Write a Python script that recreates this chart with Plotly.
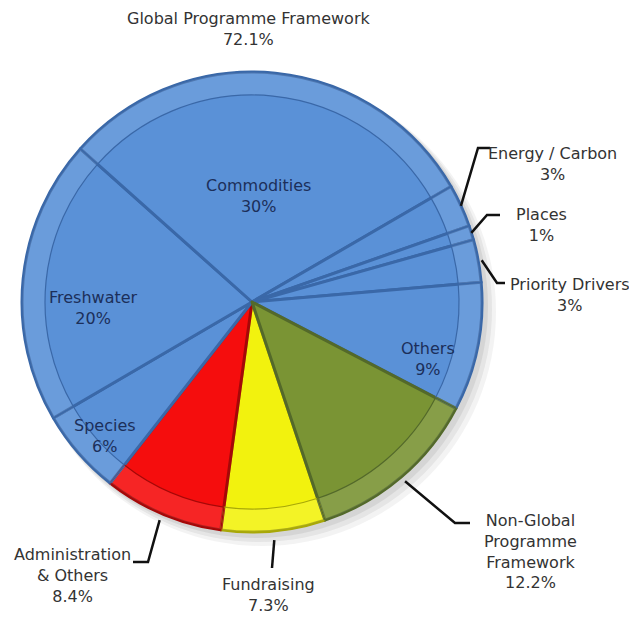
import math
import plotly.graph_objects as go

# ---- data (clockwise order, starting with Fundraising) ----
categories = ["Fundraising", "Administration & Others", "Species", "Freshwater",
              "Commodities", "Energy / Carbon", "Places", "Priority Drivers",
              "Others", "Non-Global Programme Framework"]
values = [7.3, 8.4, 6, 20, 30, 3, 1, 3, 9, 12.2]
pct_labels = ["7.3%", "8.4%", "6%", "20%", "30%", "3%", "1%", "3%", "9%", "12.2%"]
label_text = ["Fundraising", "Administration<br>& Others", "Species", "Freshwater",
              "Commodities", "Energy / Carbon", "Places", "Priority Drivers",
              "Others", "Non-Global<br>Programme<br>Framework"]
group_title = "Global Programme Framework"
group_pct = "72.1%"

# ---- styling ----
slice_colors = ["#F2F20E", "#F50D0D", "#5A91D7", "#5A91D7", "#5A91D7",
                "#5A91D7", "#5A91D7", "#5A91D7", "#5A91D7", "#7A9434"]
edge_colors = ["#A8A808", "#A50808", "#3A68A8", "#3A68A8", "#3A68A8",
               "#3A68A8", "#3A68A8", "#3A68A8", "#3A68A8", "#53692A"]

W, H = 637, 619
OFF = 8                     # browser body margin
FW, FH = W - OFF, H - OFF   # figure size
CX, CY, R = 252, 302, 230   # pie centre / radius in screen px
ROT = 161.5


def to_paper(x, y):
    return (x - OFF) / FW, 1 - (y - OFF) / FH


dx0, dy1 = to_paper(CX - R, CY - R)
dx1, dy0 = to_paper(CX + R, CY + R)

fig = go.Figure()
# soft shadow
for k, a in [(14, 0.07), (10, 0.09), (6, 0.11)]:
    s0 = to_paper(CX - R + k * 0.4, CY - R + k * 0.4)
    s1 = to_paper(CX + R + k, CY + R + k)
    fig.add_shape(type="circle", xref="paper", yref="paper",
                  x0=s0[0], x1=s1[0], y0=s1[1], y1=s0[1],
                  fillcolor=f"rgba(90,90,90,{a})", line=dict(width=0), layer="below")

fig.add_trace(go.Pie(
    labels=categories, values=values, sort=False, direction="clockwise",
    rotation=ROT, domain=dict(x=[dx0, dx1], y=[dy0, dy1]),
    marker=dict(colors=slice_colors, line=dict(color=edge_colors, width=3)),
    textinfo="none", hoverinfo="label+percent", showlegend=False))
# bevelled rim
fig.add_trace(go.Pie(
    labels=categories, values=values, sort=False, direction="clockwise",
    rotation=ROT, hole=0.9, domain=dict(x=[dx0, dx1], y=[dy0, dy1]),
    marker=dict(colors=["rgba(255,255,255,0.10)"] * len(values),
                line=dict(color=edge_colors, width=1.2)),
    textinfo="none", hoverinfo="skip", showlegend=False))

total = sum(values)
mids = {}
acc = ROT
for c, v in zip(categories, values):
    span = 360 * v / total
    mids[c] = acc + span / 2
    acc += span


def edge_pt(a_deg, rf):
    a = math.radians(a_deg)
    return CX + R * rf * math.sin(a), CY - R * rf * math.cos(a)


FONT = "DejaVu Sans"
FS = 16


def label(x, y, text, color):
    xp, yp = to_paper(x, y)
    fig.add_annotation(x=xp, y=yp, xref="paper", yref="paper", showarrow=False,
                       xanchor="center", yanchor="middle", align="center",
                       text=text, font=dict(family=FONT, size=FS, color=color))


# inside labels: screen position of text centre
inside_pos = {
    "Commodities": (258, 196),
    "Freshwater": (93, 308),
    "Species": (105, 436),
    "Others": (428, 359),
}
for c, (x, y) in inside_pos.items():
    i = categories.index(c)
    label(x, y, f"{label_text[i]}<br>{pct_labels[i]}", "#1C2F5A")

# outside labels: leader start radius, elbow, end, text centre (screen px)
outside_pos = {
    "Energy / Carbon": (1.0, (478, 148), (490, 148), (552, 164)),
    "Places": (1.0, (487, 215), (500, 215), (541, 225)),
    "Priority Drivers": (1.015, (497, 283), (505, 283), (570, 295)),
    "Non-Global Programme Framework": (1.025, (455, 523), (470, 523), (530, 551)),
    "Fundraising": (1.04, (272, 568), (272, 568), (268, 595)),
    "Administration & Others": (1.03, (148, 562), (133, 562), (72, 575)),
}
for c, (rf, elb, end, tc) in outside_pos.items():
    i = categories.index(c)
    sx, sy = edge_pt(mids[c], rf)
    p0, p1, p2 = to_paper(sx, sy), to_paper(*elb), to_paper(*end)
    fig.add_shape(type="path", xref="paper", yref="paper",
                  path=f"M {p0[0]},{p0[1]} L {p1[0]},{p1[1]} L {p2[0]},{p2[1]}",
                  line=dict(color="#111111", width=2.5))
    label(tc[0], tc[1], f"{label_text[i]}<br>{pct_labels[i]}", "#333333")

label(248, 29, f"{group_title}<br>{group_pct}", "#333333")

fig.update_layout(width=FW, height=FH, margin=dict(l=0, r=0, t=0, b=0),
                  paper_bgcolor="white", plot_bgcolor="white")
fig.write_html("out.html")
